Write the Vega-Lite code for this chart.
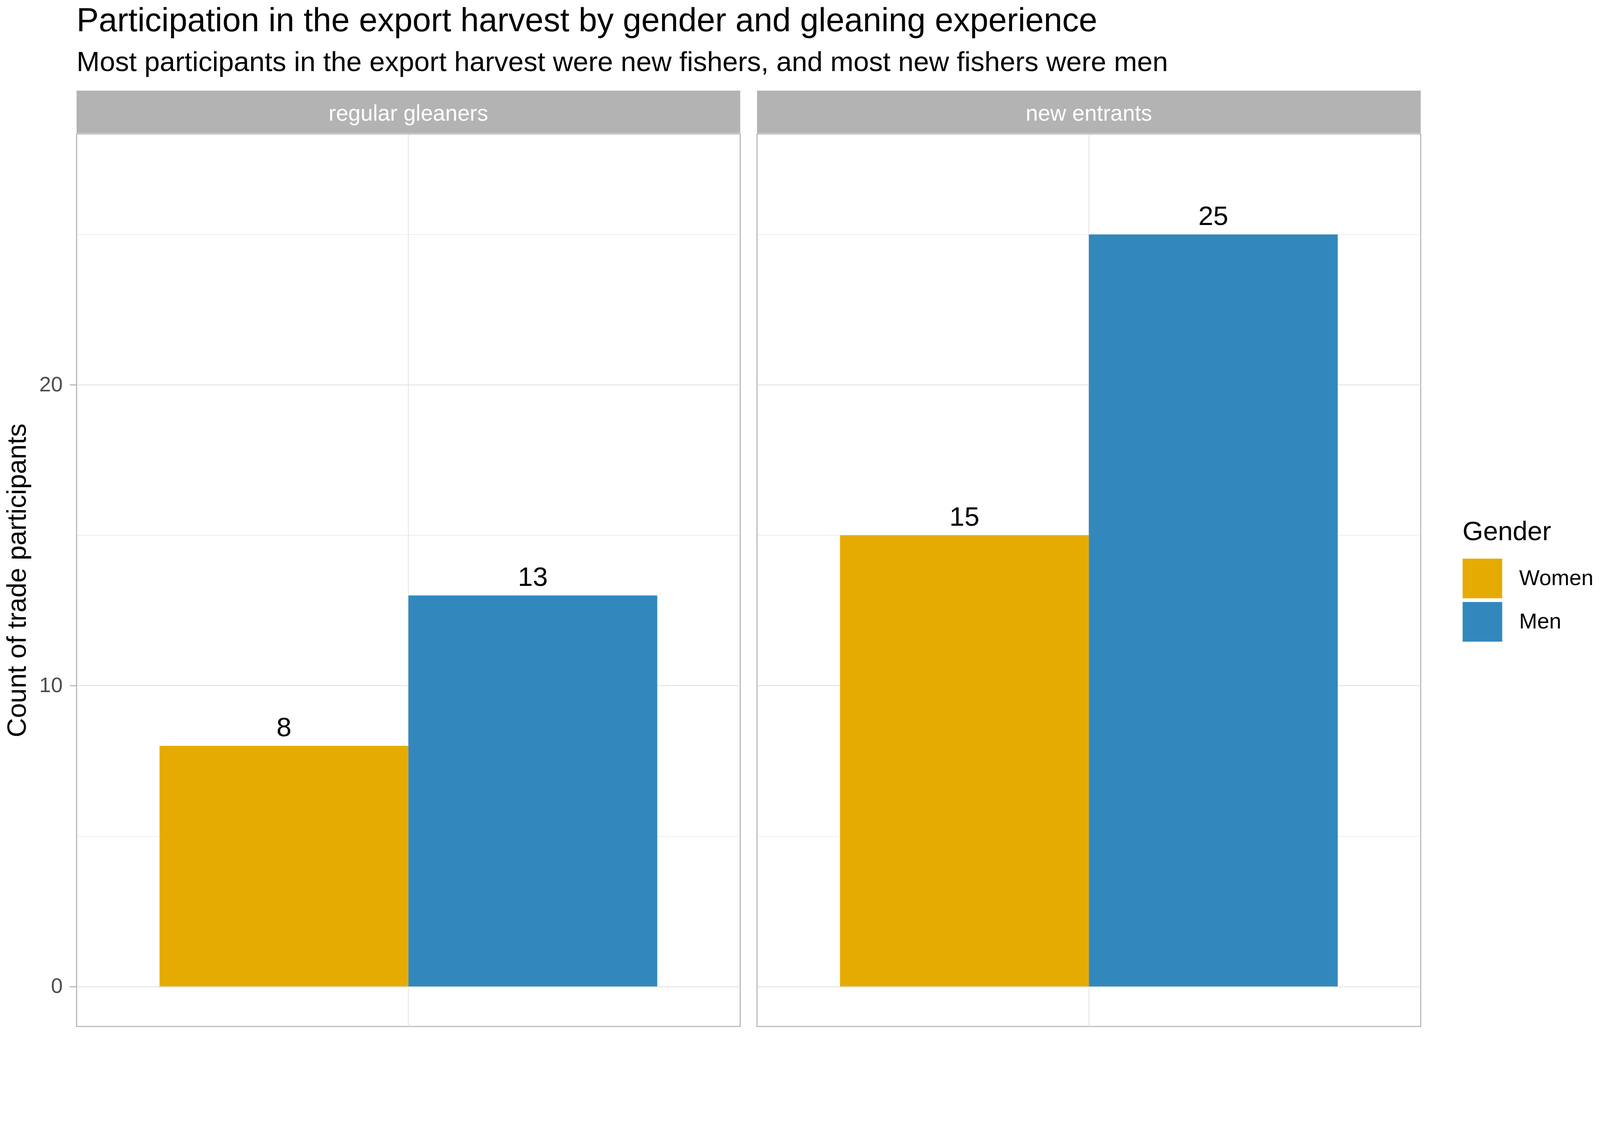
{
  "$schema": "https://vega.github.io/schema/vega-lite/v6.json",
  "background": "white",
  "padding": {"left": 9, "top": 12, "right": 0, "bottom": 5},
  "title": {
    "text": "Participation in the export harvest by gender and gleaning experience",
    "subtitle": "Most participants in the export harvest were new fishers, and most new fishers were men",
    "anchor": "start",
    "frame": "group",
    "dx": 0,
    "fontSize": 85,
    "fontWeight": "normal",
    "color": "black",
    "subtitleFontSize": 71,
    "subtitleColor": "black",
    "subtitlePadding": 28,
    "offset": 35
  },
  "datasets": {
    "counts": [
      {"experience": "regular gleaners", "gender": "Women", "count": 8},
      {"experience": "regular gleaners", "gender": "Men", "count": 13},
      {"experience": "new entrants", "gender": "Women", "count": 15},
      {"experience": "new entrants", "gender": "Men", "count": 25}
    ]
  },
  "spacing": 39,
  "hconcat": [
    {
      "spacing": 0,
      "vconcat": [
        {
          "data": {"name": "counts"},
          "transform": [
            {"filter": "datum.experience === 'regular gleaners'"},
            {"aggregate": [{"op": "count", "as": "n"}], "groupby": ["experience"]}
          ],
          "width": 1699,
          "height": 109,
          "view": {"fill": "#b3b3b3", "stroke": null},
          "mark": {"type": "text", "color": "white", "fontSize": 56.5, "baseline": "middle", "dy": 5},
          "encoding": {"text": {"field": "experience"}}
        },
        {
          "data": {"name": "counts"},
          "transform": [{"filter": "datum.experience === 'regular gleaners'"}],
          "width": 1699,
          "height": 2285,
          "encoding": {
            "x": {
              "field": "experience",
              "type": "nominal",
              "scale": {"paddingInner": 0, "paddingOuter": 0.1667},
              "axis": {"title": null, "labels": false, "ticks": false, "domain": false, "grid": true, "gridColor": "#dedede", "gridWidth": 1.8, "bandPosition": 0.5, "minExtent": 0, "maxExtent": 0}
            },
            "xOffset": {"field": "gender", "type": "nominal", "sort": ["Women", "Men"], "scale": {"paddingInner": 0, "paddingOuter": 0}},
            "y": {
              "field": "count",
              "type": "quantitative",
              "scale": {"domain": [-1.33, 28.34], "nice": false, "zero": false},
              "axis": {
                "values": [0, 5, 10, 15, 20, 25],
                "title": "Count of trade participants",
                "labelExpr": "datum.value % 10 === 0 ? datum.label : ''",
                "tickOpacity": {"condition": {"test": "datum.value % 10 === 0", "value": 1}, "value": 0},
                "gridWidth": {"condition": {"test": "datum.value % 10 === 0", "value": 2.2}, "value": 1.2},
                "gridColor": "#dedede",
                "tickSize": 18,
                "tickWidth": 2.7,
                "tickColor": "#b3b3b3",
                "labelPadding": 18,
                "labelFontSize": 54,
                "labelColor": "#4d4d4d",
                "titleFontSize": 68.5,
                "titleColor": "black",
                "titleFontWeight": "normal",
                "titlePadding": 20,
                "domain": false
              }
            }
          },
          "layer": [
            {
              "mark": "bar",
              "encoding": {
                "color": {
                  "field": "gender",
                  "type": "nominal",
                  "sort": ["Women", "Men"],
                  "scale": {"domain": ["Women", "Men"], "range": ["#E6AB02", "#3288BD"]},
                  "legend": {
                    "title": "Gender",
                    "orient": "none",
                    "legendX": 3548,
                    "legendY": 1097,
                    "symbolType": "square",
                    "symbolSize": 10267,
                    "symbolStrokeWidth": 0,
                    "symbolOpacity": 1,
                    "labelFontSize": 55.5,
                    "labelColor": "black",
                    "labelLimit": 1000,
                    "titleFontSize": 68,
                    "titleFontWeight": "normal",
                    "titleColor": "black",
                    "titleLimit": 1000,
                    "rowPadding": 9,
                    "labelOffset": 43,
                    "titlePadding": 33,
                    "padding": 0
                  }
                }
              }
            },
            {
              "mark": {"type": "text", "baseline": "alphabetic", "dy": -24, "fontSize": 69, "color": "black"},
              "encoding": {"text": {"field": "count", "type": "quantitative"}}
            }
          ]
        }
      ]
    },
    {
      "spacing": 0,
      "vconcat": [
        {
          "data": {"name": "counts"},
          "transform": [
            {"filter": "datum.experience === 'new entrants'"},
            {"aggregate": [{"op": "count", "as": "n"}], "groupby": ["experience"]}
          ],
          "width": 1699,
          "height": 109,
          "view": {"fill": "#b3b3b3", "stroke": null},
          "mark": {"type": "text", "color": "white", "fontSize": 56.5, "baseline": "middle", "dy": 5},
          "encoding": {"text": {"field": "experience"}}
        },
        {
          "data": {"name": "counts"},
          "transform": [{"filter": "datum.experience === 'new entrants'"}],
          "width": 1699,
          "height": 2285,
          "encoding": {
            "x": {
              "field": "experience",
              "type": "nominal",
              "scale": {"paddingInner": 0, "paddingOuter": 0.1667},
              "axis": {"title": null, "labels": false, "ticks": false, "domain": false, "grid": true, "gridColor": "#dedede", "gridWidth": 1.8, "bandPosition": 0.5, "minExtent": 0, "maxExtent": 0}
            },
            "xOffset": {"field": "gender", "type": "nominal", "sort": ["Women", "Men"], "scale": {"paddingInner": 0, "paddingOuter": 0}},
            "y": {
              "field": "count",
              "type": "quantitative",
              "scale": {"domain": [-1.33, 28.34], "nice": false, "zero": false},
              "axis": {
                "values": [0, 5, 10, 15, 20, 25],
                "title": null,
                "labels": false,
                "ticks": false,
                "domain": false,
                "minExtent": 0,
                "maxExtent": 0,
                "gridWidth": {"condition": {"test": "datum.value % 10 === 0", "value": 2.2}, "value": 1.2},
                "gridColor": "#dedede"
              }
            }
          },
          "layer": [
            {
              "mark": "bar",
              "encoding": {
                "color": {
                  "field": "gender",
                  "type": "nominal",
                  "sort": ["Women", "Men"],
                  "scale": {"domain": ["Women", "Men"], "range": ["#E6AB02", "#3288BD"]}
                }
              }
            },
            {
              "mark": {"type": "text", "baseline": "alphabetic", "dy": -24, "fontSize": 69, "color": "black"},
              "encoding": {"text": {"field": "count", "type": "quantitative"}}
            }
          ]
        }
      ]
    }
  ],
  "resolve": {"scale": {"color": "shared"}, "legend": {"color": "shared"}},
  "config": {
    "font": "Liberation Sans",
    "view": {"stroke": "#b3b3b3", "strokeWidth": 2.7}
  }
}
